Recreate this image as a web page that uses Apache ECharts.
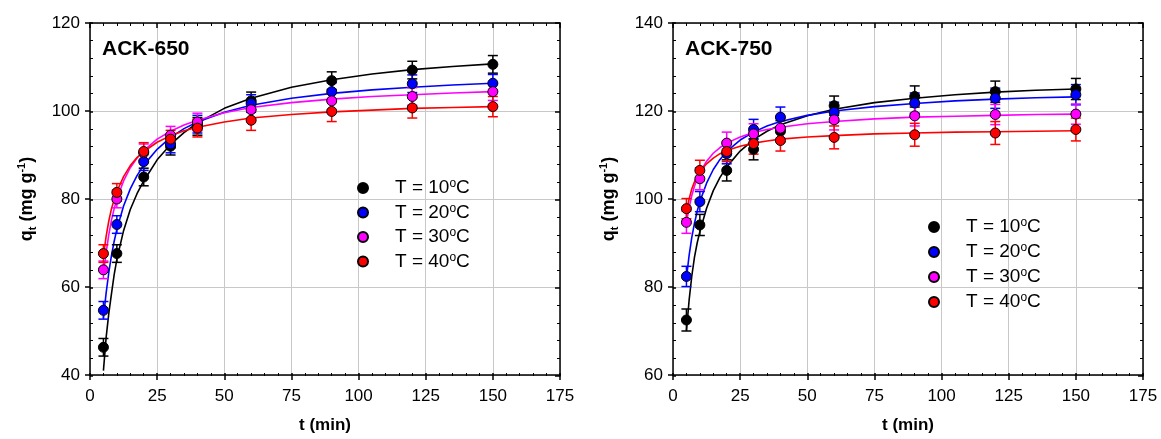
<!DOCTYPE html>
<html>
<head>
<meta charset="utf-8">
<script src="https://cdn.jsdelivr.net/npm/echarts@6/dist/echarts.min.js"></script>
<style>
html,body{margin:0;padding:0;background:#fff;}
#chart{width:1161px;height:439px;}
</style>
</head>
<body>
<div id="chart"></div>
<script>
// ---------- DATA ----------
const temps = ['10', '20', '30', '40'];
const panelTitles = ['ACK-650', 'ACK-750'];
const xTicks = [0, 25, 50, 75, 100, 125, 150, 175];
const yTicks650 = [40, 60, 80, 100, 120];
const yTicks750 = [60, 80, 100, 120, 140];

// experimental time points (min)
const tData = [5, 10, 20, 30, 40, 60, 90, 120, 150];

// ACK-650 measured q_t (mg/g)
const q650_10 = [46.3, 67.6, 85.0, 92.0, 96.5, 102.3, 106.9, 109.3, 110.6];
const q650_20 = [54.7, 74.2, 88.5, 92.5, 97.0, 101.7, 104.4, 106.2, 106.3];
const q650_30 = [63.9, 80.0, 90.5, 94.5, 97.5, 100.3, 102.3, 103.3, 104.4];
const q650_40 = [67.6, 81.5, 90.8, 93.6, 96.1, 97.9, 99.9, 100.7, 101.0];
// ACK-650 error (±)
const e650_10 = [2.0, 2.0, 2.0, 2.0, 2.0, 2.0, 2.0, 2.0, 2.0];
const e650_20 = [2.0, 2.0, 2.0, 2.0, 2.0, 2.0, 2.0, 2.0, 2.0];
const e650_30 = [2.0, 2.0, 2.0, 2.0, 2.0, 2.0, 2.0, 2.0, 2.0];
const e650_40 = [2.0, 2.0, 2.0, 2.0, 2.0, 2.3, 2.3, 2.3, 2.3];

// ACK-750 measured q_t (mg/g)
const q750_10 = [72.5, 94.1, 106.5, 111.3, 115.4, 121.2, 123.3, 124.4, 125.0];
const q750_20 = [82.4, 99.4, 110.3, 115.8, 118.6, 119.7, 121.8, 122.9, 123.7];
const q750_30 = [94.7, 104.6, 112.7, 114.8, 116.1, 118.0, 118.9, 119.2, 119.3];
const q750_40 = [97.8, 106.5, 110.8, 112.6, 113.3, 114.0, 114.6, 115.0, 115.8];
// ACK-750 error (±)
const e750_10 = [2.5, 2.4, 2.4, 2.4, 2.4, 2.2, 2.4, 2.4, 2.4];
const e750_20 = [2.3, 2.3, 2.3, 2.3, 2.3, 2.3, 2.3, 2.3, 2.3];
const e750_30 = [2.5, 2.5, 2.5, 2.3, 2.3, 2.3, 2.3, 2.3, 2.3];
const e750_40 = [2.3, 2.3, 2.3, 2.4, 2.4, 2.6, 2.6, 2.6, 2.6];

// fitted curves
const tFit = [5, 6, 7, 8, 9, 10, 12.5, 15, 17.5, 20, 25, 30, 35, 40, 50, 60, 75, 90, 105, 120, 135, 150];
const fit650_10 = [41.0, 48.5, 54.0, 58.5, 62.8, 66.3, 72.8, 77.6, 81.2, 84.1, 88.9, 92.4, 95.1, 97.3, 100.6, 102.9, 105.4, 107.1, 108.4, 109.4, 110.1, 110.7];
const fit650_20 = [53.0, 58.6, 63.3, 67.2, 70.4, 73.1, 78.4, 82.3, 85.3, 87.7, 91.3, 94.0, 96.0, 97.5, 99.7, 101.3, 102.9, 104.0, 104.8, 105.4, 105.9, 106.3];
const fit650_30 = [63.0, 67.8, 71.9, 75.2, 77.8, 80.0, 84.1, 87.1, 89.3, 91.0, 93.6, 95.4, 96.8, 97.9, 99.6, 100.8, 101.9, 102.7, 103.3, 103.7, 104.1, 104.4];
const fit650_40 = [67.0, 71.5, 75.0, 77.8, 79.9, 81.7, 85.1, 87.6, 89.4, 90.8, 92.9, 94.4, 95.5, 96.3, 97.5, 98.4, 99.2, 99.8, 100.2, 100.6, 100.8, 101.0];
const fit750_10 = [70.0, 77.0, 82.5, 86.8, 90.0, 92.6, 97.9, 101.9, 104.9, 107.3, 110.9, 113.5, 115.4, 116.9, 118.9, 120.4, 121.9, 122.9, 123.7, 124.3, 124.7, 125.0];
const fit750_20 = [82.0, 87.2, 91.3, 94.5, 97.2, 99.4, 103.6, 106.7, 109.0, 110.8, 113.4, 115.2, 116.6, 117.6, 119.0, 120.0, 121.0, 121.7, 122.3, 122.7, 123.0, 123.2];
const fit750_30 = [94.7, 98.0, 100.8, 102.9, 104.6, 106.0, 108.6, 110.4, 111.7, 112.7, 114.1, 115.1, 115.8, 116.3, 117.1, 117.6, 118.2, 118.6, 118.8, 119.0, 119.2, 119.3];
const fit750_40 = [97.0, 100.0, 102.3, 103.9, 105.2, 106.2, 108.0, 109.3, 110.3, 111.0, 112.0, 112.7, 113.2, 113.6, 114.1, 114.4, 114.8, 115.0, 115.2, 115.3, 115.4, 115.5];

// ---------- STYLE ----------
const colors = ['#000000', '#0000ff', '#ff00ff', '#ff0000'];
const FONT = '"Liberation Sans", Arial, sans-serif';

const panels = [
  { q: [q650_10, q650_20, q650_30, q650_40], e: [e650_10, e650_20, e650_30, e650_40],
    fit: [fit650_10, fit650_20, fit650_30, fit650_40], yTicks: yTicks650,
    left: 90, legendLeft: 357, legendTop: 178, legendGap: 5, yNameGap: 52 },
  { q: [q750_10, q750_20, q750_30, q750_40], e: [e750_10, e750_20, e750_30, e750_40],
    fit: [fit750_10, fit750_20, fit750_30, fit750_40], yTicks: yTicks750,
    left: 673, legendLeft: 928, legendTop: 217, legendGap: 5.5, yNameGap: 53 }
];

const GT = 23, GW = 470, GH = 353;
const grids = [], xAxes = [], yAxes = [], series = [], titles = [], legends = [];

function zip(a, b) { return a.map((v, i) => [v, b[i]]); }

function renderErr(params, api) {
  const t = api.value(0), q = api.value(1), e = api.value(2);
  const lo = api.coord([t, q - e]);
  const hi = api.coord([t, q + e]);
  const hw = 5;
  const style = { stroke: api.visual('color'), lineWidth: 1.5, fill: null };
  return {
    type: 'group',
    children: [
      { type: 'line', shape: { x1: lo[0], y1: lo[1], x2: hi[0], y2: hi[1] }, style },
      { type: 'line', shape: { x1: lo[0] - hw, y1: lo[1], x2: lo[0] + hw, y2: lo[1] }, style },
      { type: 'line', shape: { x1: hi[0] - hw, y1: hi[1], x2: hi[0] + hw, y2: hi[1] }, style }
    ]
  };
}

const yName = '{b|q}{sub|t}{b| (mg g}{sup|-1}{b|)}';
const nameRich = {
  b: { fontFamily: FONT, fontWeight: 'bold', fontSize: 18, color: '#000', lineHeight: 22 },
  sub: { fontFamily: FONT, fontWeight: 'bold', fontSize: 11, color: '#000', verticalAlign: 'bottom', lineHeight: 11 },
  sup: { fontFamily: FONT, fontWeight: 'bold', fontSize: 11, color: '#000', verticalAlign: 'top', lineHeight: 11 }
};

panels.forEach((p, pi) => {
  const gMain = grids.length;
  grids.push({ left: p.left, top: GT, width: GW, height: GH });
  grids.push({ left: p.left, top: GT, width: GW, height: GH });
  const gOver = gMain + 1;
  const yMin = p.yTicks[0], yMax = p.yTicks[p.yTicks.length - 1];
  const yInt = p.yTicks[1] - p.yTicks[0];
  const xInt = xTicks[1] - xTicks[0];

  const xMainIdx = xAxes.length;
  xAxes.push({
    type: 'value', gridIndex: gMain, position: 'bottom',
    min: xTicks[0], max: xTicks[xTicks.length - 1], interval: xInt,
    axisLine: { show: true, onZero: false, lineStyle: { color: '#000', width: 1.5 } },
    axisTick: { show: true, inside: false, length: 5, lineStyle: { color: '#000', width: 1.5 } },
    minorTick: { show: false },
    axisLabel: { show: true, fontFamily: FONT, fontSize: 17, color: '#000', margin: 13 },
    splitLine: { show: true, lineStyle: { color: '#c8c8c8', width: 1 } },
    name: 't (min)', nameLocation: 'middle', nameGap: 42,
    nameTextStyle: { fontFamily: FONT, fontWeight: 'bold', fontSize: 17, color: '#000' }
  });
  xAxes.push({
    type: 'value', gridIndex: gOver, position: 'bottom',
    min: xTicks[0], max: xTicks[xTicks.length - 1], interval: xInt,
    axisLine: { show: false, onZero: false },
    axisTick: { show: true, inside: true, length: 3, lineStyle: { color: '#000', width: 1.5 } },
    minorTick: { show: true, splitNumber: 5, length: 3, lineStyle: { color: '#000', width: 1 } },
    axisLabel: { show: false }, splitLine: { show: false }
  });
  xAxes.push({
    type: 'value', gridIndex: gOver, position: 'top',
    min: xTicks[0], max: xTicks[xTicks.length - 1], interval: xInt,
    axisLine: { show: true, onZero: false, lineStyle: { color: '#000', width: 1.5 } },
    axisTick: { show: true, inside: true, length: 5, lineStyle: { color: '#000', width: 1.5 } },
    minorTick: { show: true, splitNumber: 5, length: 3, lineStyle: { color: '#000', width: 1 } },
    axisLabel: { show: false }, splitLine: { show: false }
  });

  const yMainIdx = yAxes.length;
  yAxes.push({
    type: 'value', gridIndex: gMain, position: 'left',
    min: yMin, max: yMax, interval: yInt,
    axisLine: { show: true, onZero: false, lineStyle: { color: '#000', width: 1.5 } },
    axisTick: { show: true, inside: false, length: 5, lineStyle: { color: '#000', width: 1.5 } },
    minorTick: { show: false },
    axisLabel: { show: true, fontFamily: FONT, fontSize: 17, color: '#000', margin: 10 },
    splitLine: { show: true, lineStyle: { color: '#c8c8c8', width: 1 } },
    name: yName, nameLocation: 'middle', nameGap: p.yNameGap, nameRotate: 90,
    nameTextStyle: { fontFamily: FONT, fontWeight: 'bold', fontSize: 18, color: '#000', rich: nameRich }
  });
  yAxes.push({
    type: 'value', gridIndex: gOver, position: 'left',
    min: yMin, max: yMax, interval: yInt,
    axisLine: { show: false, onZero: false },
    axisTick: { show: true, inside: true, length: 3, lineStyle: { color: '#000', width: 1.5 } },
    minorTick: { show: true, splitNumber: 5, length: 3, lineStyle: { color: '#000', width: 1 } },
    axisLabel: { show: false }, splitLine: { show: false }
  });
  yAxes.push({
    type: 'value', gridIndex: gOver, position: 'right',
    min: yMin, max: yMax, interval: yInt,
    axisLine: { show: true, onZero: false, lineStyle: { color: '#000', width: 1.5 } },
    axisTick: { show: true, inside: true, length: 5, lineStyle: { color: '#000', width: 1.5 } },
    minorTick: { show: true, splitNumber: 5, length: 3, lineStyle: { color: '#000', width: 1 } },
    axisLabel: { show: false }, splitLine: { show: false }
  });

  temps.forEach((tp, k) => {
    series.push({
      name: 'fit' + pi + '_' + tp, type: 'line', xAxisIndex: xMainIdx, yAxisIndex: yMainIdx,
      data: zip(tFit, p.fit[k]), showSymbol: false, smooth: false,
      lineStyle: { color: colors[k], width: 1.6, join: 'round' }, itemStyle: { color: colors[k] },
      silent: true, z: 3, clip: true
    });
  });
  temps.forEach((tp, k) => {
    series.push({
      name: 'err' + pi + '_' + tp, type: 'custom', xAxisIndex: xMainIdx, yAxisIndex: yMainIdx,
      renderItem: renderErr, encode: { x: 0, y: 1 },
      data: tData.map((t, i) => [t, p.q[k][i], p.e[k][i]]),
      itemStyle: { color: colors[k] }, silent: true, z: 4
    });
    series.push({
      name: tp, type: 'scatter', xAxisIndex: xMainIdx, yAxisIndex: yMainIdx,
      data: zip(tData, p.q[k]), symbol: 'circle', symbolSize: 10,
      itemStyle: { color: colors[k], borderColor: '#000', borderWidth: 1, opacity: 1 },
      silent: true, z: 5
    });
  });

  titles.push({
    text: panelTitles[pi], left: p.left + 12, top: 39, padding: 0,
    textStyle: { fontFamily: FONT, fontSize: 21, fontWeight: 'bold', color: '#000' }
  });

  legends.push({
    data: temps.map(t => ({ name: t, icon: 'circle' })),
    orient: 'vertical', left: p.legendLeft, top: p.legendTop, padding: 0,
    itemWidth: 10, itemHeight: 10, itemGap: p.legendGap, selectedMode: false,
    formatter: n => '{n|T = ' + n + '}{s|o}{n|C}',
    textStyle: {
      fontFamily: FONT, fontSize: 19, color: '#000', padding: [0, 0, 0, 22],
      rich: {
        n: { fontFamily: FONT, fontSize: 19, color: '#000', lineHeight: 20 },
        s: { fontFamily: FONT, fontSize: 12, color: '#000', verticalAlign: 'top', lineHeight: 10 }
      }
    }
  });
});

const chart = echarts.init(document.getElementById('chart'), null, { renderer: 'canvas' });
chart.setOption({
  animation: false,
  backgroundColor: '#fff',
  title: titles,
  legend: legends,
  grid: grids,
  xAxis: xAxes,
  yAxis: yAxes,
  series: series
});
</script>
</body>
</html>
